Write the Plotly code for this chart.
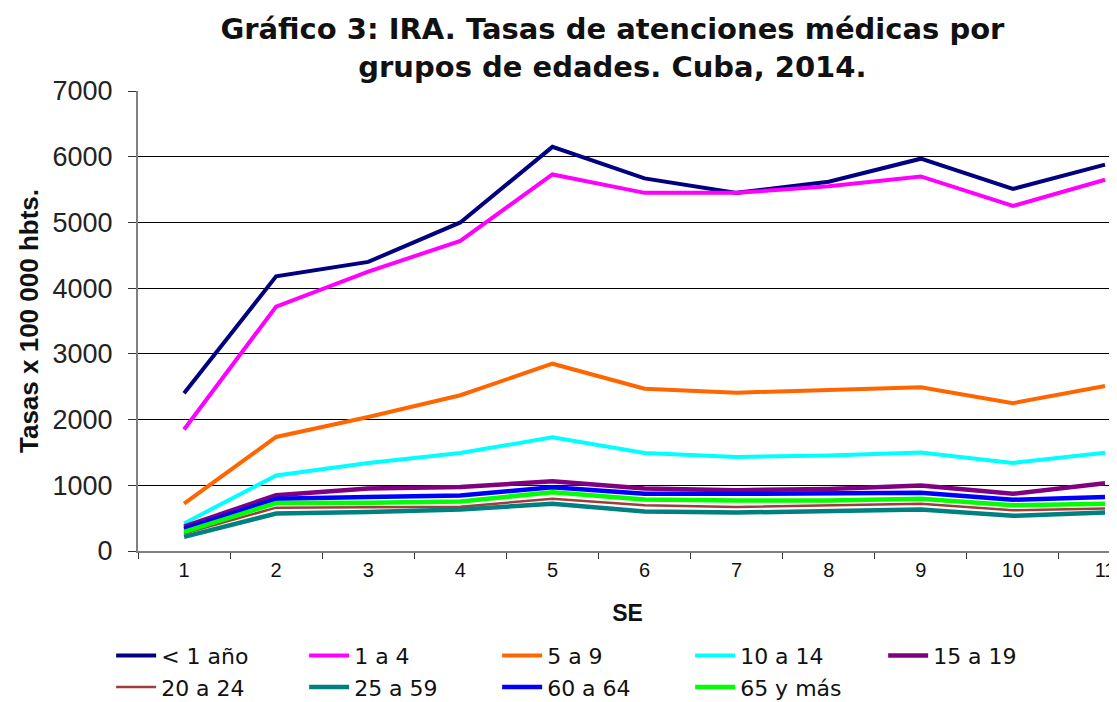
import plotly.graph_objects as go

semanas = ["1", "2", "3", "4", "5", "6", "7", "8", "9", "10", "11"]

menor_1 = [2400, 4180, 4400, 5000, 6150, 5670, 5450, 5620, 5970, 5510, 5880]
de_1_a_4 = [1850, 3720, 4250, 4720, 5730, 5450, 5450, 5550, 5700, 5250, 5650]
de_5_a_9 = [720, 1735, 2040, 2370, 2850, 2470, 2410, 2450, 2490, 2250, 2510]
de_10_a_14 = [420, 1150, 1340, 1490, 1730, 1490, 1430, 1455, 1500, 1340, 1495]
de_15_a_19 = [370, 850, 950, 975, 1060, 950, 925, 945, 995, 870, 1030]
de_20_a_24 = [265, 660, 665, 675, 795, 695, 670, 690, 720, 620, 645]
de_25_a_59 = [215, 570, 595, 630, 720, 600, 585, 600, 630, 535, 585]
de_60_a_64 = [335, 795, 820, 845, 970, 870, 870, 870, 885, 780, 820]
de_65_mas = [290, 730, 735, 755, 895, 785, 770, 770, 795, 695, 720]

series = [
    ("< 1 año", menor_1, "#000080", 4),
    ("1 a 4", de_1_a_4, "#FF00FF", 4),
    ("5 a 9", de_5_a_9, "#FF6600", 4),
    ("10 a 14", de_10_a_14, "#00FFFF", 4),
    ("15 a 19", de_15_a_19, "#800080", 4.5),
    ("20 a 24", de_20_a_24, "#A03C3C", 2.5),
    ("25 a 59", de_25_a_59, "#008080", 4.5),
    ("60 a 64", de_60_a_64, "#0000FF", 4.5),
    ("65 y más", de_65_mas, "#00FF00", 4.5),
]

fig = go.Figure()
for name, vals, color, w in series:
    fig.add_trace(go.Scatter(
        x=semanas, y=vals, name=name, mode="lines",
        line=dict(color=color, width=w),
    ))

ARIAL = "Liberation Sans, Arial, sans-serif"
WIDE = "DejaVu Sans, Verdana, sans-serif"
TXT = "#111111"

# The page body adds an 8 px offset, so the figure is sized to fit the window.
W, H = 1109, 694

fig.update_layout(
    width=W, height=H,
    margin=dict(l=130, r=0, t=83, b=151, autoexpand=False),
    paper_bgcolor="white", plot_bgcolor="white",
    font=dict(family=ARIAL, color=TXT),
    title=dict(
        text="<b>Gráfico 3: IRA. Tasas de atenciones médicas por<br>grupos de edades. Cuba, 2014.</b>",
        x=0.545, xanchor="center", y=0.955, yanchor="middle",
        xref="container", yref="container",
        font=dict(size=29, family=WIDE, color=TXT),
    ),
    xaxis=dict(
        type="category",
        range=[-0.5, 10.13],
        tickson="boundaries",
        ticks="outside", ticklen=6, tickcolor="#333333",
        showline=True, linecolor="#808080", linewidth=2,
        showgrid=False, automargin=False,
        tickfont=dict(size=20, family=ARIAL, color=TXT),
        title=dict(text="<b>SE</b>", font=dict(size=23, family=ARIAL, color=TXT), standoff=25),
    ),
    yaxis=dict(
        range=[0, 7000], dtick=1000,
        ticks="outside", ticklen=8, tickcolor="#333333",
        ticklabelstandoff=10,
        showline=True, linecolor="#808080", linewidth=2,
        showgrid=True, gridcolor="#000000", gridwidth=1.2,
        zeroline=False, automargin=False,
        tickfont=dict(size=27, family=ARIAL, color="#222222"),
        title=dict(text="<b>Tasas x 100 000 hbts.</b>", font=dict(size=26, family=ARIAL, color=TXT), standoff=6),
    ),
    legend=dict(
        orientation="h",
        xref="container", yref="container",
        x=0.093, xanchor="left", y=0.097, yanchor="top",
        entrywidth=138, entrywidthmode="pixels",
        font=dict(size=22, family=WIDE, color=TXT),
        itemwidth=40, tracegroupgap=0,
        bgcolor="rgba(0,0,0,0)",
    ),
    showlegend=True,
)

fig.write_html("out.html")
